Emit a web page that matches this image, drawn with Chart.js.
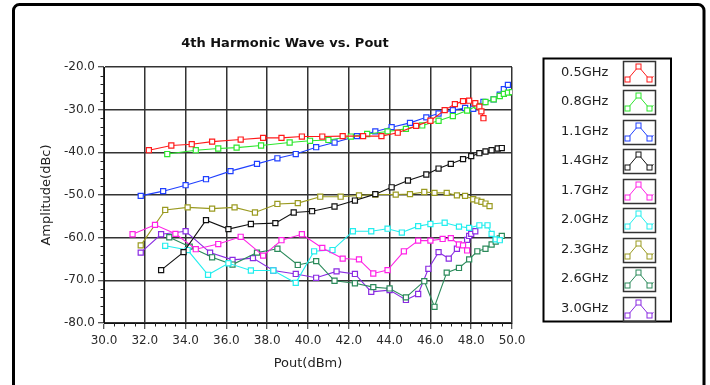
<!DOCTYPE html>
<html>
<head>
<meta charset="utf-8">
<title>4th Harmonic Wave vs. Pout</title>
<script src="https://cdn.jsdelivr.net/npm/chart.js@4.4.1/dist/chart.umd.min.js"></script>
<style>
  html, body { margin: 0; padding: 0; background: #fff; }
  canvas { display: block; }
</style>
</head>
<body>
<canvas id="harmonic-chart" width="710" height="385"></canvas>
<script>
// ===== 4th harmonic level vs. output power, one curve per carrier frequency =====

const bands = ['0.5GHz', '0.8GHz', '1.1GHz', '1.4GHz', '1.7GHz', '2.0GHz', '2.3GHz', '2.6GHz', '3.0GHz'];

// Pout (dBm) / amplitude (dBc) pairs for each band
const pout05 = [32.2, 33.3, 34.3, 35.3, 36.7, 37.8, 38.7, 39.7, 40.7, 41.7, 42.7, 43.6, 44.4, 45.3, 46.0, 46.7, 47.2, 47.6, 47.9, 48.2, 48.4, 48.5, 48.6];
const amp05  = [-39.5, -38.4, -38.1, -37.5, -37.0, -36.6, -36.6, -36.3, -36.3, -36.2, -36.2, -36.2, -35.4, -33.8, -32.6, -30.1, -28.7, -28.0, -27.9, -28.5, -29.3, -30.4, -32.0];

const pout08 = [33.1, 34.5, 35.6, 36.5, 37.7, 39.1, 40.1, 41.0, 42.1, 42.9, 43.9, 44.8, 45.6, 46.4, 47.1, 47.8, 48.3, 48.7, 49.1, 49.4, 49.6, 49.8, 50.0];
const amp08  = [-40.4, -39.5, -39.1, -38.9, -38.4, -37.7, -37.3, -37.1, -36.3, -35.7, -35.1, -34.5, -33.7, -32.6, -31.5, -30.2, -29.1, -28.2, -27.6, -26.8, -26.3, -26.0, -25.9];

const pout11 = [31.8, 32.9, 34.0, 35.0, 36.2, 37.5, 38.5, 39.4, 40.4, 41.3, 42.4, 43.3, 44.1, 45.0, 45.8, 46.4, 47.1, 47.7, 48.1, 48.6, 49.1, 49.4, 49.6, 49.8];
const amp11  = [-50.2, -49.1, -47.7, -46.3, -44.4, -42.7, -41.4, -40.4, -38.8, -37.7, -36.2, -35.1, -34.1, -33.1, -31.8, -30.9, -30.1, -29.6, -29.8, -28.2, -27.6, -26.5, -25.2, -24.2];

const pout14 = [32.8, 33.9, 35.0, 36.1, 37.2, 38.4, 39.3, 40.2, 41.3, 42.3, 43.3, 44.1, 44.9, 45.8, 46.4, 47.0, 47.6, 48.0, 48.4, 48.7, 49.0, 49.3, 49.5];
const amp14  = [-67.6, -63.4, -55.9, -58.0, -56.8, -56.6, -54.1, -53.8, -52.7, -51.3, -49.8, -48.2, -46.6, -45.2, -43.8, -42.7, -41.6, -40.9, -40.2, -39.8, -39.5, -39.1, -39.0];

const pout17 = [31.4, 32.5, 33.5, 34.5, 35.6, 36.7, 37.8, 38.7, 39.7, 40.7, 41.7, 42.5, 43.2, 43.9, 44.7, 45.4, 46.0, 46.6, 47.0, 47.4, 47.6, 47.8];
const amp17  = [-59.2, -57.0, -59.1, -62.7, -61.5, -59.8, -64.2, -60.6, -59.2, -62.4, -64.9, -65.1, -68.4, -67.6, -63.2, -60.7, -60.7, -60.3, -60.1, -61.6, -61.8, -63.0];

const pout20 = [33.0, 34.1, 35.1, 36.1, 37.2, 38.3, 39.4, 40.3, 41.2, 42.2, 43.1, 43.9, 44.6, 45.4, 46.0, 46.7, 47.4, 47.9, 48.4, 48.8, 49.0, 49.2, 49.4];
const amp20  = [-61.9, -62.9, -68.7, -66.0, -67.7, -67.7, -70.6, -63.2, -62.9, -58.5, -58.5, -57.9, -58.8, -57.3, -56.8, -56.5, -57.4, -57.7, -57.1, -57.1, -59.1, -60.4, -60.6];

const pout23 = [31.8, 33.0, 34.1, 35.3, 36.4, 37.4, 38.5, 39.5, 40.6, 41.6, 42.5, 43.3, 44.3, 45.0, 45.7, 46.2, 46.8, 47.3, 47.7, 48.1, 48.3, 48.5, 48.7, 48.9];
const amp23  = [-61.8, -53.5, -52.9, -53.2, -52.9, -54.1, -52.1, -51.9, -50.4, -50.4, -50.1, -49.9, -49.9, -49.8, -49.3, -49.5, -49.5, -50.1, -50.2, -51.0, -51.3, -51.6, -52.0, -52.6];

const pout26 = [33.2, 34.2, 35.3, 36.3, 37.5, 38.5, 39.5, 40.4, 41.3, 42.3, 43.2, 44.0, 44.8, 45.7, 46.2, 46.8, 47.4, 47.9, 48.3, 48.7, 49.0, 49.2, 49.4, 49.5];
const amp26  = [-59.9, -62.1, -64.6, -66.3, -63.5, -62.6, -66.4, -65.5, -70.1, -70.7, -71.6, -71.9, -74.0, -70.2, -76.2, -68.2, -67.1, -65.1, -63.2, -62.6, -61.6, -60.9, -60.2, -59.6];

const pout30 = [31.8, 32.8, 34.0, 35.2, 36.3, 37.3, 38.3, 39.4, 40.4, 41.4, 42.3, 43.1, 44.0, 44.8, 45.4, 45.9, 46.4, 46.9, 47.3, 47.8, 47.9, 48.0, 48.2];
const amp30  = [-63.5, -59.2, -58.5, -63.5, -65.2, -64.8, -67.7, -68.5, -69.4, -67.9, -68.5, -72.7, -72.3, -74.6, -73.2, -67.3, -63.4, -64.9, -62.6, -60.5, -59.6, -59.1, -58.5];

const poutSets = [pout05, pout08, pout11, pout14, pout17, pout20, pout23, pout26, pout30];
const ampSets  = [amp05, amp08, amp11, amp14, amp17, amp20, amp23, amp26, amp30];

// line colours, same order as bands
const bandColors = ['#ff1a1a', '#2ee62e', '#2040ff', '#111111', '#ff22e6', '#22eeee', '#9a9a20', '#2a8a5a', '#8a2be2'];

const FONT = '"DejaVu Sans", sans-serif';

// outer frame + title
const framePlugin = {
    id: 'framePlugin',
    beforeDraw(chart) {
        const ctx = chart.ctx;
        ctx.save();
        ctx.fillStyle = '#fff';
        ctx.fillRect(0, 0, chart.width, chart.height);
        ctx.strokeStyle = '#000';
        ctx.lineWidth = 3;
        ctx.beginPath();
        ctx.roundRect(13.5, 4.5, 690.5, 400, 6);
        ctx.stroke();
        ctx.restore();
    },
    afterDraw(chart) {
        const ctx = chart.ctx;
        ctx.save();
        ctx.font = 'bold 13px ' + FONT;
        ctx.fillStyle = '#111';
        ctx.textAlign = 'center';
        ctx.textBaseline = 'middle';
        ctx.fillText('4th Harmonic Wave vs. Pout', 285, 44);
        ctx.restore();
    }
};

// small ticks between the labelled ones
const minorTicks = {
    id: 'minorTicks',
    afterDraw(chart) {
        const { ctx, chartArea, scales } = chart;
        const x = scales.x, y = scales.y;
        ctx.save();
        ctx.strokeStyle = '#222';
        ctx.lineWidth = 1;
        ctx.beginPath();
        for (let v = 30; v <= 50; v += 0.5) {
            if (v % 2 === 0) continue;
            const px = Math.round(x.getPixelForValue(v)) + 0.5;
            ctx.moveTo(px, chartArea.bottom);
            ctx.lineTo(px, chartArea.bottom + 3.5);
        }
        for (let v = -80; v <= -20; v += 2) {
            if (v % 10 === 0) continue;
            const py = Math.round(y.getPixelForValue(v)) + 0.5;
            ctx.moveTo(chartArea.left, py);
            ctx.lineTo(chartArea.left - 3.5, py);
        }
        ctx.stroke();
        ctx.restore();
    }
};

// boxed legend on the right with a little sample curve per band
const boxLegend = {
    id: 'boxLegend',
    afterDraw(chart) {
        const ctx = chart.ctx;
        ctx.save();
        ctx.strokeStyle = '#000';
        ctx.lineWidth = 2;
        ctx.strokeRect(543.5, 58.5, 127.5, 263);

        chart.data.datasets.forEach((ds, i) => {
            const yc = 72.5 + i * 29.5;
            ctx.font = '13px ' + FONT;
            ctx.fillStyle = '#222';
            ctx.textAlign = 'left';
            ctx.textBaseline = 'middle';
            ctx.fillText(ds.label, 561, yc);

            const bx = 623.5, by = Math.round(yc - 12) + 0.5;
            ctx.strokeStyle = '#333';
            ctx.lineWidth = 1.5;
            ctx.strokeRect(bx, by, 32, 24);

            const pts = [[bx + 4, by + 18], [bx + 15, by + 5], [bx + 26, by + 18]];
            ctx.strokeStyle = ds.borderColor;
            ctx.lineWidth = 1;
            ctx.beginPath();
            ctx.moveTo(pts[0][0], pts[0][1]);
            ctx.lineTo(pts[1][0], pts[1][1]);
            ctx.lineTo(pts[2][0], pts[2][1]);
            ctx.lineTo(bx + 30, by + 15);
            ctx.stroke();
            pts.forEach(([px, py]) => {
                ctx.fillStyle = '#fff';
                ctx.fillRect(px - 2.5, py - 2.5, 5, 5);
                ctx.strokeRect(px - 2.5, py - 2.5, 5, 5);
            });
        });
        ctx.restore();
    }
};

const datasets = bands.map((label, i) => ({
    label: label,
    data: poutSets[i].map((p, k) => ({ x: p, y: ampSets[i][k] })),
    borderColor: bandColors[i],
    backgroundColor: '#fff',
    borderWidth: 1.1,
    pointStyle: 'rect',
    pointRadius: 3.6,
    pointBorderWidth: 1.2,
    pointBackgroundColor: '#fff',
    pointBorderColor: bandColors[i],
    tension: 0
}));

new Chart(document.getElementById('harmonic-chart').getContext('2d'), {
    type: 'line',
    data: { datasets: datasets },
    options: {
        responsive: false,
        animation: false,
        layout: { padding: { left: 0, right: 198, top: 67, bottom: 0 } },
        plugins: {
            legend: { display: false },
            title: { display: false },
            tooltip: { enabled: false }
        },
        scales: {
            x: {
                type: 'linear',
                min: 30,
                max: 50,
                afterFit: (scale) => { scale.height = 62; },
                ticks: {
                    stepSize: 2,
                    padding: 5,
                    color: '#2a2a2a',
                    font: { family: FONT, size: 12 },
                    maxRotation: 0,
                    callback: (v) => v.toFixed(1)
                },
                grid: { color: '#333', lineWidth: 1.5, tickColor: '#222', tickWidth: 1, tickLength: 6 },
                border: { color: '#111', width: 1 },
                title: {
                    display: true,
                    text: 'Pout(dBm)',
                    color: '#222',
                    font: { family: FONT, size: 13 },
                    padding: { top: 0, bottom: 14 }
                }
            },
            y: {
                type: 'linear',
                min: -80,
                max: -20,
                afterFit: (scale) => { scale.width = 104; },
                ticks: {
                    stepSize: 10,
                    padding: 3,
                    color: '#2a2a2a',
                    font: { family: FONT, size: 12 },
                    callback: (v) => v.toFixed(1)
                },
                grid: { color: '#333', lineWidth: 1.5, tickColor: '#222', tickWidth: 1, tickLength: 6 },
                border: { color: '#111', width: 1 },
                title: {
                    display: true,
                    text: 'Amplitude(dBc)',
                    color: '#222',
                    font: { family: FONT, size: 13 },
                    padding: { top: 39, bottom: 0 }
                }
            }
        }
    },
    plugins: [framePlugin, minorTicks, boxLegend]
});
</script>
</body>
</html>
